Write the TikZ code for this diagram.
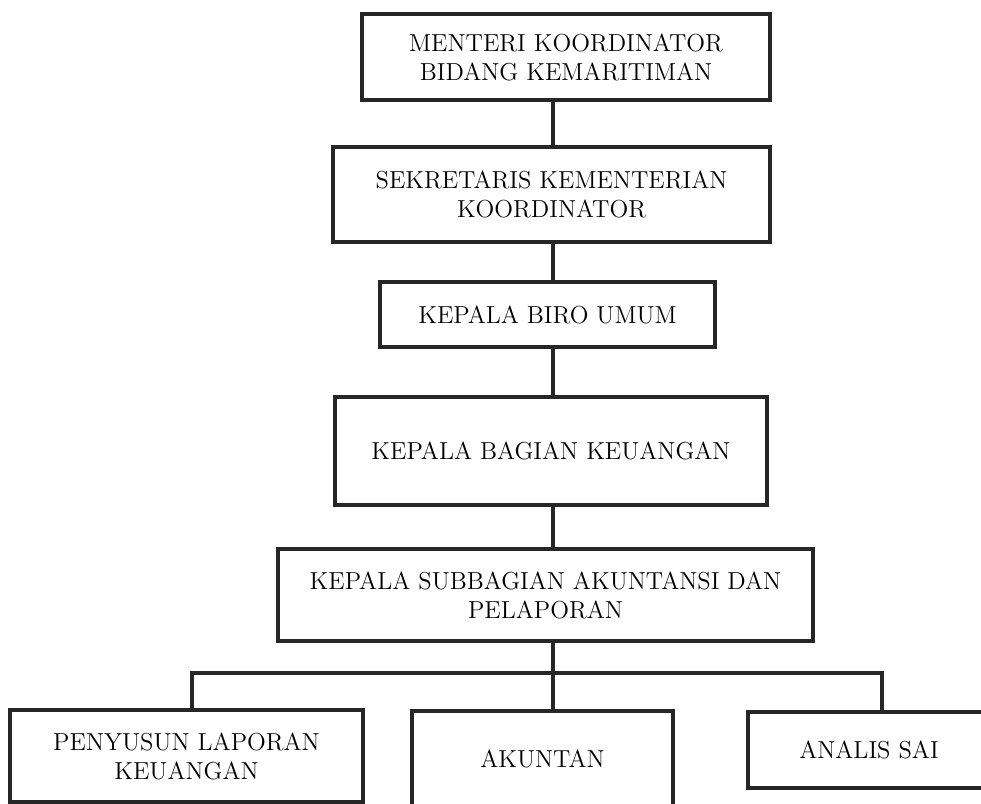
\documentclass[tikz,border=0pt]{standalone}
\usepackage{tikz}

\tikzset{
  box/.style={draw=black!85, line width=1.8pt, align=center, inner sep=0pt,
    font=\fontsize{14}{16.5}\selectfont},
  link/.style={draw=black!85, line width=2pt}
}

\begin{document}
\begin{tikzpicture}[x=0.02cm, y=-0.02cm]
  \useasboundingbox (0,0) rectangle (981,804);

  \node[box, minimum width=8.16cm, minimum height=1.72cm] (menteri) at (566,57)
    {MENTERI KOORDINATOR\\BIDANG KEMARITIMAN};
  \node[box, minimum width=8.74cm, minimum height=1.9cm] (sekretaris) at (551.5,194.5)
    {SEKRETARIS KEMENTERIAN\\KOORDINATOR};
  \node[box, minimum width=6.7cm, minimum height=1.3cm] (biro) at (547.5,314.5)
    {KEPALA BIRO UMUM};
  \node[box, minimum width=8.64cm, minimum height=2.16cm] (bagian) at (551,451)
    {KEPALA BAGIAN KEUANGAN};
  \node[box, minimum width=10.7cm, minimum height=1.84cm] (subbagian) at (545.5,595)
    {KEPALA SUBBAGIAN AKUNTANSI DAN\\PELAPORAN};

  \node[box, minimum width=7.06cm, minimum height=1.84cm] (penyusun) at (186.5,756)
    {PENYUSUN LAPORAN\\KEUANGAN};
  \node[box, minimum width=5.22cm, minimum height=1.9cm] (akuntan) at (542.5,758.5)
    {AKUNTAN};
  \node[box, minimum width=4.84cm, minimum height=1.52cm] (analis) at (869,750)
    {ANALIS SAI};

  % spine and bus
  \coordinate (spine) at (553,0);
  \coordinate (busL) at (192,673);
  \coordinate (busR) at (882,673);

  \draw[link] (menteri.south -| spine) -- (sekretaris.north -| spine);
  \draw[link] (sekretaris.south -| spine) -- (biro.north -| spine);
  \draw[link] (biro.south -| spine) -- (bagian.north -| spine);
  \draw[link] (bagian.south -| spine) -- (subbagian.north -| spine);
  \draw[link] (subbagian.south -| spine) -- (akuntan.north -| spine);
  \draw[link] (penyusun.north -| busL) -- (busL) -- (busR) -- (analis.north -| busR);
\end{tikzpicture}
\end{document}
